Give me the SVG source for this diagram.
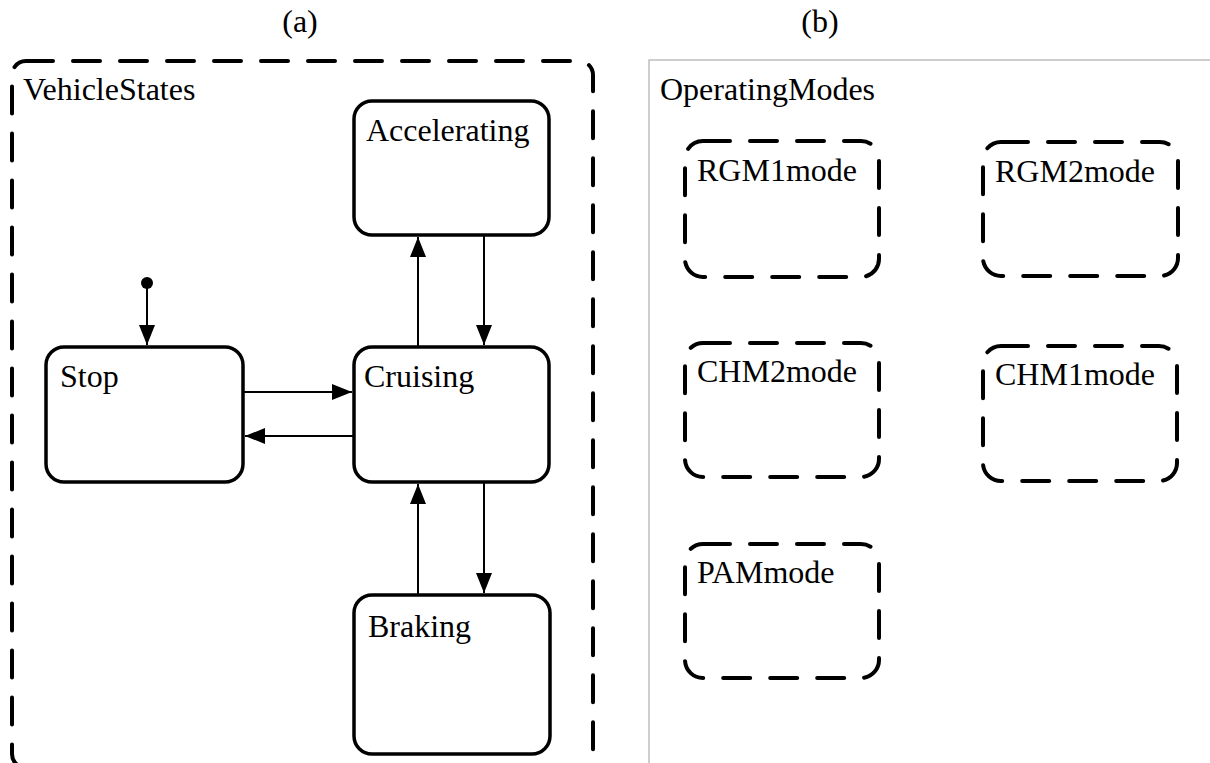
<svg xmlns="http://www.w3.org/2000/svg" width="1210" height="763" viewBox="0 0 1210 763">
<style>
text{font-family:"Liberation Serif","Times New Roman",serif;font-size:32px;fill:#000}
.state{fill:#fff;stroke:#000;stroke-width:3.5}
.dash{fill:none;stroke:#000;stroke-width:4;stroke-dasharray:27 20;stroke-linecap:round}
.conn{stroke:#000;stroke-width:2;fill:none}
</style>
<defs>
<marker id="arr" markerUnits="userSpaceOnUse" markerWidth="22" markerHeight="18" refX="20" refY="8" orient="auto">
<path d="M0,0 L20,8 L0,16 Z" fill="#000"/>
</marker>
</defs>
<rect width="1210" height="763" fill="#fff"/>
<text x="300" y="32" text-anchor="middle">(a)</text>
<text x="820" y="32" text-anchor="middle">(b)</text>

<g id="VehicleStates">
<rect class="dash" x="12" y="61" width="581" height="707" rx="14"/>
<text x="23" y="100">VehicleStates</text>
</g>

<g id="OperatingModes">
<rect x="649" y="60" width="600" height="740" fill="none" stroke="#bfbfbf" stroke-width="1.5"/>
<text x="660" y="100">OperatingModes</text>
</g>

<g id="Accelerating">
<rect class="state" x="354" y="101" width="195" height="134" rx="18"/>
<text x="366" y="141">Accelerating</text>
</g>
<g id="Stop">
<rect class="state" x="46" y="347" width="197" height="135" rx="18"/>
<text x="60" y="387">Stop</text>
</g>
<g id="Cruising">
<rect class="state" x="354" y="347" width="195" height="135" rx="18"/>
<text x="364" y="387">Cruising</text>
</g>
<g id="Braking">
<rect class="state" x="354" y="595" width="196" height="159" rx="18"/>
<text x="368" y="637">Braking</text>
</g>
<g id="Initial">
<circle cx="147" cy="283" r="6" fill="#000"/>
</g>

<g id="RGM1mode">
<rect class="dash" x="685" y="141" width="194" height="136" rx="18"/>
<text x="697" y="181">RGM1mode</text>
</g>
<g id="RGM2mode">
<rect class="dash" x="983" y="142" width="195" height="134" rx="18"/>
<text x="995" y="182">RGM2mode</text>
</g>
<g id="CHM2mode">
<rect class="dash" x="685" y="343" width="194" height="134" rx="18"/>
<text x="697" y="382">CHM2mode</text>
</g>
<g id="CHM1mode">
<rect class="dash" x="983" y="346" width="194" height="135" rx="18"/>
<text x="995" y="385">CHM1mode</text>
</g>
<g id="PAMmode">
<rect class="dash" x="685" y="544" width="194" height="134" rx="18"/>
<text x="697" y="583">PAMmode</text>
</g>

<g id="connectors">
<line class="conn" x1="147" y1="283" x2="147" y2="345" marker-end="url(#arr)"/>
<line class="conn" x1="243" y1="392" x2="352" y2="392" marker-end="url(#arr)"/>
<line class="conn" x1="354" y1="436" x2="245" y2="436" marker-end="url(#arr)"/>
<line class="conn" x1="418" y1="347" x2="418" y2="237" marker-end="url(#arr)"/>
<line class="conn" x1="484" y1="235" x2="484" y2="345" marker-end="url(#arr)"/>
<line class="conn" x1="418" y1="595" x2="418" y2="484" marker-end="url(#arr)"/>
<line class="conn" x1="484" y1="482" x2="484" y2="593" marker-end="url(#arr)"/>
</g>
</svg>
